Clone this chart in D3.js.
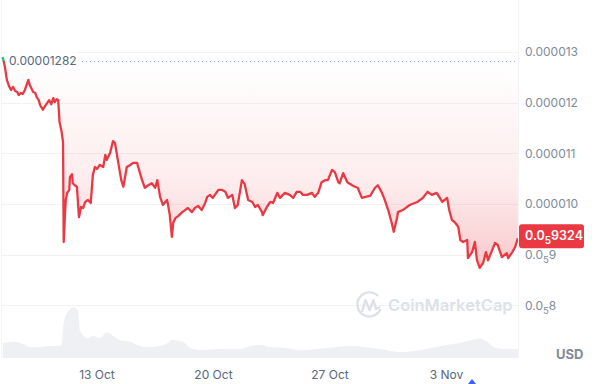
<!DOCTYPE html>
<html>
<head>
<meta charset="utf-8">
<script src="https://cdn.jsdelivr.net/npm/d3@7"></script>
<style>
  body { margin: 0; background: #fff; }
  svg { display: block; font-family: Inter, "Noto Sans", sans-serif; }
  .ytick { font-size: 12px; fill: #808a9d; }
  .xtick { font-size: 12px; fill: #58667e; }
</style>
</head>
<body>
<svg id="chart" width="600" height="384"></svg>
<script>
// price in 1e-6 USD, time in hours since 2023-10-07 00:00 UTC
const startUtc = Date.UTC(2023, 9, 7);
const openPrice = 12.82;
const lastPrice = 9.324;

const priceHours = [
  8, 11, 14, 17, 20, 23, 26, 29, 31, 34, 37, 40, 45, 47, 52, 55, 57, 60, 62, 66,
  69, 72, 75, 78, 81, 83, 86, 88, 90, 93, 95, 96, 98, 99, 101, 104, 105, 108, 109, 112,
  115, 118, 121, 124, 127, 131, 135, 138, 141, 144, 148, 153, 156, 158, 163, 167, 170, 174, 179, 182,
  187, 192, 196, 202, 203, 209, 213, 218, 223, 228, 231, 235, 239, 245, 246, 249, 252, 254, 257, 261,
  267, 271, 275, 281, 285, 290, 295, 300, 303, 307, 311, 319, 324, 329, 333, 339, 343, 347, 353, 357,
  362, 368, 372, 376, 382, 383, 389, 394, 398, 404, 408, 415, 422, 427, 432, 437, 441, 447, 454, 458,
  463, 468, 473, 477, 483, 487, 492, 494, 499, 505, 512, 516, 520, 526, 531, 538, 545, 549, 555, 559,
  564, 569, 572, 577, 578, 585, 595, 606, 614, 621, 627, 634, 642, 649, 652, 656, 660, 665, 668, 672,
  678, 679, 685, 689, 692, 696, 701, 705, 708, 714, 718, 722, 728, 735, 737, 743, 747, 751
];
const priceValues = [
  12.9, 12.72, 12.45, 12.33, 12.25, 12.31, 12.23, 12.21, 12.15, 12.19, 12.17, 12.25, 12.45, 12.35, 12.21, 12.19, 12.11, 12.05, 11.95, 11.86,
  11.93, 11.99, 12.05, 11.97, 12.09, 12.01, 12.07, 12.05, 11.62, 11.42, 11.22, 9.25, 9.84, 10.08, 10.22, 10.28, 10.53, 10.59, 10.41, 10.37,
  10.34, 9.74, 9.94, 9.92, 10.04, 10.08, 10.02, 10.57, 10.73, 10.69, 10.77, 10.73, 10.97, 10.87, 11.01, 11.24, 11.2, 10.87, 10.47, 10.34,
  10.73, 10.77, 10.81, 10.81, 10.75, 10.47, 10.32, 10.37, 10.41, 10.32, 10.47, 10.14, 9.98, 10.08, 10.02, 9.78, 9.35, 9.63, 9.72, 9.76,
  9.84, 9.88, 9.92, 9.84, 9.92, 9.96, 9.88, 10.02, 10.14, 10.18, 10.12, 10.28, 10.28, 10.24, 10.12, 10.18, 9.92, 9.98, 10.47, 10.39,
  10.08, 10.04, 9.94, 9.98, 9.84, 9.78, 9.94, 10.04, 10.02, 10.22, 10.12, 10.22, 10.18, 10.12, 10.24, 10.24, 10.18, 10.18, 10.22, 10.14,
  10.22, 10.43, 10.47, 10.47, 10.67, 10.63, 10.43, 10.41, 10.61, 10.43, 10.37, 10.34, 10.32, 10.12, 10.14, 10.16, 10.32, 10.37, 10.22, 10.08,
  9.88, 9.63, 9.45, 9.74, 9.84, 9.88, 9.98, 10.04, 10.12, 10.24, 10.18, 10.22, 10.04, 10.12, 9.88, 9.68, 9.64, 9.55, 9.29, 9.25,
  9.29, 8.93, 9.05, 9.25, 8.89, 8.74, 8.84, 9.05, 8.89, 9.09, 9.23, 9.19, 8.95, 9.03, 8.93, 9.05, 9.15, 9.324
];

// volume, million USD
const volumeHours = [
  8, 26, 40, 47, 62, 76, 88, 93, 95, 99, 105, 109, 114, 117, 119, 124, 131, 138, 148, 158,
  166, 177, 192, 206, 220, 235, 246, 252, 264, 271, 278, 293, 321, 350, 365, 379, 394, 415, 437, 480,
  509, 552, 581, 610, 639, 675, 696, 707, 718, 733, 751
];
const volumeValues = [
  25, 27, 22, 18, 18, 20, 20, 22, 47, 72, 80, 85, 82, 78, 47, 38, 33, 37, 33, 43,
  38, 30, 27, 20, 18, 20, 25, 30, 28, 25, 17, 13, 15, 15, 20, 22, 18, 17, 13, 17,
  20, 15, 10, 13, 20, 27, 33, 27, 17, 15, 15
];

const yTicks = [8, 9, 10, 11, 12, 13];
const xTickDates = ["2023-10-13", "2023-10-20", "2023-10-27", "2023-11-03"];

const hourToDate = h => new Date(startUtc + h * 3600e3);
const prices = priceHours.map((h, i) => ({ t: hourToDate(h), v: priceValues[i] }));
const volumes = volumeHours.map((h, i) => ({ t: hourToDate(h), v: volumeValues[i] }));

const plotRight = 518;
const plotBottom = 358;

const svg = d3.select("#chart");

const x = d3.scaleUtc()
            .domain([hourToDate(4.1), hourToDate(751.2)])
            .range([0, plotRight]);

const y = d3.scaleLinear()
            .domain([8, 13])
            .range([305.3, 52]);

const yVol = d3.scaleLinear()
               .domain([0, 100])
               .range([plotBottom, plotBottom - 60]);

const defs = svg.append("defs");

const grad = defs.append("linearGradient")
                 .attr("id", "redFill")
                 .attr("gradientUnits", "userSpaceOnUse")
                 .attr("x1", 0).attr("x2", 0)
                 .attr("y1", y(openPrice)).attr("y2", y(8.7));
grad.append("stop").attr("offset", 0).attr("stop-color", "#ea3943").attr("stop-opacity", 0.0);
grad.append("stop").attr("offset", 0.6).attr("stop-color", "#ea3943").attr("stop-opacity", 0.1);
grad.append("stop").attr("offset", 1).attr("stop-color", "#ea3943").attr("stop-opacity", 0.28);

defs.append("clipPath").attr("id", "below")
    .append("rect")
    .attr("x", 0).attr("y", y(openPrice))
    .attr("width", plotRight).attr("height", plotBottom);

defs.append("clipPath").attr("id", "above")
    .append("rect")
    .attr("x", 0).attr("y", 0)
    .attr("width", plotRight).attr("height", y(openPrice));

// Grid
svg.append("g")
   .selectAll("line")
   .data(yTicks)
   .join("line")
   .attr("x1", 2)
   .attr("x2", plotRight)
   .attr("y1", d => Math.round(y(d)) + 0.5)
   .attr("y2", d => Math.round(y(d)) + 0.5)
   .attr("stroke", "#f1f2f4");

svg.append("line")
   .attr("x1", plotRight + 0.5).attr("x2", plotRight + 0.5)
   .attr("y1", 0).attr("y2", plotBottom)
   .attr("stroke", "#f1f2f4");

svg.append("line")
   .attr("x1", 1.5).attr("x2", 1.5)
   .attr("y1", 0).attr("y2", plotBottom)
   .attr("stroke", "#f5f6f7");

// Volume
svg.append("path")
   .datum(volumes)
   .attr("fill", "#eef0f4")
   .attr("d", d3.area()
                .x(d => x(d.t))
                .y0(plotBottom)
                .y1(d => yVol(d.v))
                .curve(d3.curveMonotoneX));

// Watermark
const wm = svg.append("g").attr("fill", "none").attr("stroke", "#dde1e8").attr("stroke-width", 2.4);
wm.append("path")
  .attr("d", "M 380.5 309 A 12 12 0 1 1 378 296");
wm.append("path")
  .attr("d", "M 362 312 L 365.5 300 L 369.5 310 L 373.5 300 L 376 309 L 380 307")
  .attr("stroke-linejoin", "round");
svg.append("text")
   .attr("x", 388).attr("y", 311)
   .attr("font-size", 16.5)
   .attr("font-weight", 600)
   .attr("fill", "#dde1e8")
   .text("CoinMarketCap");

// Price fill between open line and price
svg.append("path")
   .datum(prices)
   .attr("clip-path", "url(#below)")
   .attr("fill", "url(#redFill)")
   .attr("d", d3.area()
                .x(d => x(d.t))
                .y0(y(openPrice))
                .y1(d => y(d.v)));

// Open price reference
svg.append("line")
   .attr("x1", 82).attr("x2", plotRight)
   .attr("y1", Math.round(y(openPrice)) + 0.5)
   .attr("y2", Math.round(y(openPrice)) + 0.5)
   .attr("stroke", "#a6b0c3")
   .attr("stroke-dasharray", "1,3");

const priceLine = d3.line()
                    .x(d => x(d.t))
                    .y(d => y(d.v));

svg.append("path")
   .datum(prices)
   .attr("clip-path", "url(#below)")
   .attr("fill", "none")
   .attr("stroke", "#ea3943")
   .attr("stroke-width", 2.3)
   .attr("stroke-linejoin", "round")
   .attr("d", priceLine);

svg.append("path")
   .datum(prices)
   .attr("clip-path", "url(#above)")
   .attr("fill", "none")
   .attr("stroke", "#16c784")
   .attr("stroke-width", 2.3)
   .attr("d", priceLine);

svg.append("rect")
   .attr("x", 7).attr("y", y(openPrice) - 9)
   .attr("width", 71).attr("height", 18)
   .attr("fill", "#fff")
   .attr("opacity", 0.85);

svg.append("text")
   .attr("x", 9).attr("y", y(openPrice))
   .attr("dy", "0.35em")
   .attr("font-size", 12)
   .attr("fill", "#58667e")
   .text("0.0000" + Math.round(openPrice * 100));

// Y axis labels
function priceLabel(sel, v) {
  if (v >= 10) {
    sel.text("0.0000" + String(v).replace(".", ""));
  } else {
    sel.text("0.0");
    sel.append("tspan").attr("font-size", "0.8em").attr("dy", 4).text("5");
    sel.append("tspan").attr("dy", -4).text(String(v).replace(".", ""));
  }
}

svg.append("g")
   .selectAll("text")
   .data(yTicks)
   .join("text")
   .attr("class", "ytick")
   .attr("x", 525)
   .attr("y", d => y(d))
   .attr("dy", "0.35em")
   .each(function(d) { priceLabel(d3.select(this), d); });

// X axis labels
svg.append("g")
   .selectAll("text")
   .data(xTickDates)
   .join("text")
   .attr("class", "xtick")
   .attr("x", d => x(new Date(d + "T00:00:00Z")))
   .attr("y", 375)
   .attr("dy", "0.35em")
   .attr("text-anchor", "middle")
   .text(d => d3.utcFormat("%-d %b")(new Date(d + "T00:00:00Z")));

svg.append("text")
   .attr("x", 556).attr("y", 354)
   .attr("dy", "0.35em")
   .attr("font-size", 13)
   .attr("font-weight", 700)
   .attr("fill", "#808a9d")
   .text("USD");

// Current price tag
const tagY = y(lastPrice) - 2;
svg.append("rect")
   .attr("x", 519).attr("y", tagY - 12)
   .attr("width", 65).attr("height", 24)
   .attr("rx", 3)
   .attr("fill", "#ea3943");

const tag = svg.append("text")
   .attr("x", 525).attr("y", tagY)
   .attr("dy", "0.3em")
   .attr("font-size", 12.5)
   .attr("font-weight", 600)
   .attr("fill", "#fff")
   .text("0.0");
tag.append("tspan").attr("font-size", "0.8em").attr("dy", 4).text("5");
tag.append("tspan").attr("dy", -4).text(String(lastPrice).replace(".", ""));

// Small blue marker at the bottom edge
svg.append("path")
   .attr("d", "M 468 384 L 472 379 L 476 384 Z")
   .attr("fill", "#3861fb");
</script>
</body>
</html>
